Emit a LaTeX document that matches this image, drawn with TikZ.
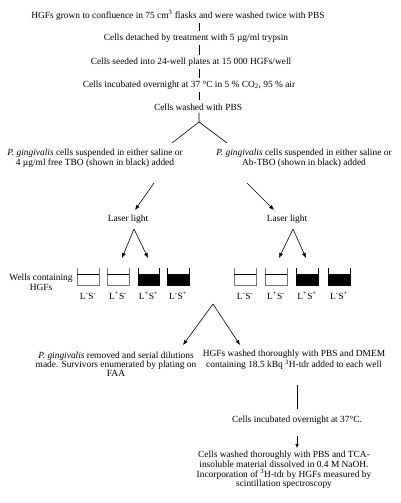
\documentclass[tikz,border=0pt]{standalone}
\usepackage{fontspec}
\setmainfont{Liberation Serif}
\usetikzlibrary{arrows.meta}
\begin{document}
\begin{tikzpicture}[x=1pt,y=-1pt,
  font=\fontsize{9.4}{10}\selectfont,
  txt/.style={inner sep=0pt, align=center},
  tight/.style={txt, font=\fontsize{9.4}{9}\selectfont},
  ln/.style={line width=0.6pt},
  arr/.style={ln,-{Latex[length=5pt,width=4pt]}},
  wellline/.style={line width=0.8pt, draw=black!55},
  tick/.style={ln, shorten <=3pt, shorten >=3pt}]
\useasboundingbox (0,0) rectangle (400,503);

% top sequence
\node[txt] (t1) at (178,15) {HGFs grown to confluence in 75 cm\textsuperscript{3} flasks and were washed twice with PBS};
\node[txt] (t2) at (196,38) {Cells detached by treatment with 5 µg/ml trypsin};
\node[txt] (t3) at (191,62) {Cells seeded into 24-well plates at 15 000 HGFs/well};
\node[txt] (t4) at (189,85) {Cells incubated overnight at 37 °C in 5 \% CO\textsubscript{2}, 95 \% air};
\node[txt] (t5) at (198,107) {Cells washed with PBS};
\coordinate (tx) at (199,0);
\draw[tick] (t1.south -| tx) -- (t2.north -| tx);
\draw[tick] (t2.south -| tx) -- (t3.north -| tx);
\draw[tick] (t3.south -| tx) -- (t4.north -| tx);
\draw[tick] (t4.south -| tx) -- (t5.north -| tx);

% fork
\coordinate (f1) at (199,122);
\coordinate (fl) at (172,143);
\coordinate (fr) at (227,143);
\draw[ln] (t5.south -| tx) ++(0,2) -- (f1) -- (fl);
\draw[ln] (f1) -- (fr);

\node[txt] (pl) at (95,158) {\textit{P. gingivalis} cells suspended in either saline or\\4 µg/ml free TBO (shown in black) added};
\node[txt] (pr) at (304,158) {\textit{P. gingivalis} cells suspended in either saline or\\Ab-TBO (shown in black) added};

\node[txt] (ll) at (128,219) {Laser light};
\node[txt] (lr) at (287,219) {Laser light};
\coordinate (al) at (154,183);
\coordinate (ar) at (247,183);
\coordinate (alt) at (135,210);
\coordinate (art) at (274,210);
\draw[arr] (al) -- (alt);
\draw[arr] (ar) -- (art);

% laser arrows
\coordinate (lla) at (134,229);
\coordinate (lra) at (293,229);
\coordinate (w2l) at (122,258);
\coordinate (w3l) at (148,258);
\coordinate (w2r) at (279,258);
\coordinate (w3r) at (306,258);
\draw[arr] (lla) -- (w2l);
\draw[arr] (lla) -- (w3l);
\draw[arr] (lra) -- (w2r);
\draw[arr] (lra) -- (w3r);

% wells
\foreach \a/\b/\f/\lab [count=\i] in {77/99/0/{L\textsuperscript{-}S\textsuperscript{-}},107/129/0/{L\textsuperscript{+}S\textsuperscript{-}},138/159/1/{L\textsuperscript{+}S\textsuperscript{+}},167/189/1/{L\textsuperscript{-}S\textsuperscript{+}},234/256/0/{L\textsuperscript{-}S\textsuperscript{-}},265/287/0/{L\textsuperscript{+}S\textsuperscript{-}},296/318/1/{L\textsuperscript{+}S\textsuperscript{+}},328/350/1/{L\textsuperscript{-}S\textsuperscript{+}}}{
  \ifnum\f=1
    \fill (\a,274) rectangle (\b,285);
    \draw[line width=0.8pt] (\a,268) |- (\b,285) -- (\b,268);
  \else
    \draw[wellline] (\a,268) |- (\b,285) -- (\b,268);
    \draw[line width=0.6pt] (\a,274) -- (\b,274);
  \fi
  \node[txt] (lab\i) at ({(\a+\b)/2},296) {\lab};
}
\node[txt] (wc) at (41,282) {Wells containing\\HGFs};

% bottom fork
\coordinate (bap) at (213,304);
\coordinate (bl) at (183,345);
\coordinate (br) at (240,345);
\draw[arr] (bap) -- (bl);
\draw[arr] (bap) -- (br);

\node[tight] (bl1) at (116,364) {\textit{P. gingivalis} removed and serial dilutions\\made. Survivors enumerated by plating on\\FAA};
\node[txt, font=\fontsize{9.4}{9.6}\selectfont] (br1) at (294,360) {HGFs washed thoroughly with PBS and DMEM\\containing 18.5 kBq \textsuperscript{3}H-tdr added to each well};

\coordinate (v1) at (297,385);
\coordinate (v2) at (297,409);
\draw[ln] (v1) -- (v2);
\node[txt] (inc) at (297,420) {Cells incubated overnight at 37°C.};
\coordinate (a1) at (297,436);
\coordinate (a2) at (297,448);
\draw[ln,-{Latex[length=4pt,width=3.5pt]}] (a1) -- (a2);
\node[txt, font=\fontsize{9.4}{9.6}\selectfont] (fin) at (284,470) {Cells washed thoroughly with PBS and TCA-\\insoluble material dissolved in 0.4 M NaOH.\\Incorporation of \textsuperscript{3}H-tdr by HGFs measured by\\scintillation spectroscopy};
\end{tikzpicture}
\end{document}
